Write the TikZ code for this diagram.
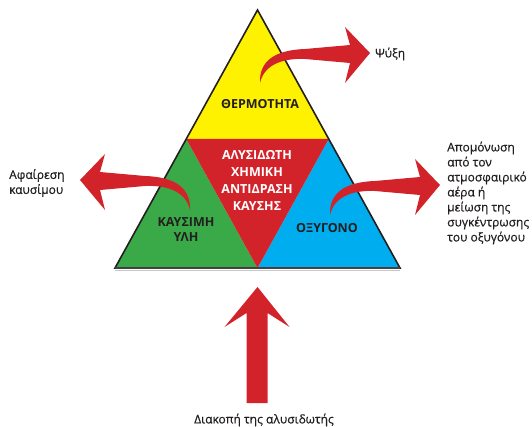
\documentclass[tikz,border=0pt]{standalone}
\usepackage{fontspec}
\setmainfont{Open Sans}
\newfontfamily\remedyfont{Open Sans}[FakeBold=0.5]
\usepackage{tikz}
\usepackage{xcolor}

\definecolor{firered}{RGB}{210,35,42}
\definecolor{heatyellow}{RGB}{255,242,0}
\definecolor{fuelgreen}{RGB}{58,170,73}
\definecolor{oxblue}{RGB}{0,174,239}
\definecolor{inkdark}{RGB}{35,31,32}

\begin{document}
\begin{tikzpicture}[x=1pt, y=-1pt,
  zone/.style={inner sep=0pt, align=center, text=inkdark, font=\fontsize{12.5}{15}\selectfont\bfseries},
  chain/.style={zone, text=white, font=\fontsize{12.5}{17}\selectfont\bfseries},
  remedy/.style={inner sep=0pt, align=left, text=inkdark, font=\remedyfont\fontsize{12}{15}\selectfont},
  redarrow/.style={fill=firered, draw=none},
  burst/.pic={\fill[redarrow] (0,0) .. controls (-1,-22) and (15,-33) .. (45,-34)
      -- (90,-38) -- (85,-56) -- (110,-30) -- (85,0) -- (90,-20) -- (45,-24)
      .. controls (22,-25) and (4,-18) .. cycle;},
]
\useasboundingbox (0,0) rectangle (532,427);
% corners of the fire triangle
\coordinate (apex) at (257.5,10);
\coordinate (bl) at (115,268);
\coordinate (br) at (400,268);
\coordinate (ml) at (186.25,139);
\coordinate (mr) at (328.75,139);
\coordinate (mb) at (257.5,268);
\fill[heatyellow] (apex) -- (ml) -- (mr) -- cycle;
\fill[fuelgreen] (ml) -- (bl) -- (mb) -- cycle;
\fill[oxblue] (mr) -- (mb) -- (br) -- cycle;
\fill[firered] (ml) -- (mr) -- (mb) -- cycle;
\draw[gray!45, line width=1.2pt] ([yshift=-2.5pt]bl) -- ([yshift=-2.5pt]br);
\draw[inkdark, line width=1.6pt, line join=miter] (apex) -- (bl) -- (br) -- cycle;
\draw[inkdark!85, line width=2pt] (bl) -- (br);
% labels
\node[zone] (heat) at (260,104) {ΘΕΡΜΟΤΗΤΑ};
\node[chain] (chainreact) at (257,180) {ΑΛΥΣΙΔΩΤΗ\\ΧΗΜΙΚΗ\\ΑΝΤΙΔΡΑΣΗ\\ΚΑΥΣΗΣ};
\node[zone] (fuel) at (186,230) {ΚΑΥΣΙΜΗ\\ΥΛΗ};
\node[zone] (oxygen) at (327,228) {ΟΞΥΓΟΝΟ};
% the four ways out
\pic at (260,83) {burst};
\pic at (330,215) {burst};
\pic[xscale=-1] at (190,210) {burst};
\coordinate (stoptip) at (257.5,287);
\fill[redarrow] (stoptip) -- ++(32,40) -- ++(-22,-14) -- ++(0,90) -- ++(-21,0)
  -- ++(0,-90) -- ++(-22,14) -- cycle;
\node[remedy, anchor=west] (cooling) at (375,54) {Ψύξη};
\node[remedy, anchor=west] (starve) at (9,183) {Αφαίρεση\\καυσίμου};
\node[remedy, anchor=west] (smother) at (447,193) {Απομόνωση\\από τον\\ατμοσφαιρικό\\αέρα ή\\μείωση της\\συγκέντρωσης\\του οξυγόνου};
\node[remedy] (stop) at (264,420) {Διακοπή της αλυσιδωτής};
\end{tikzpicture}
\end{document}
